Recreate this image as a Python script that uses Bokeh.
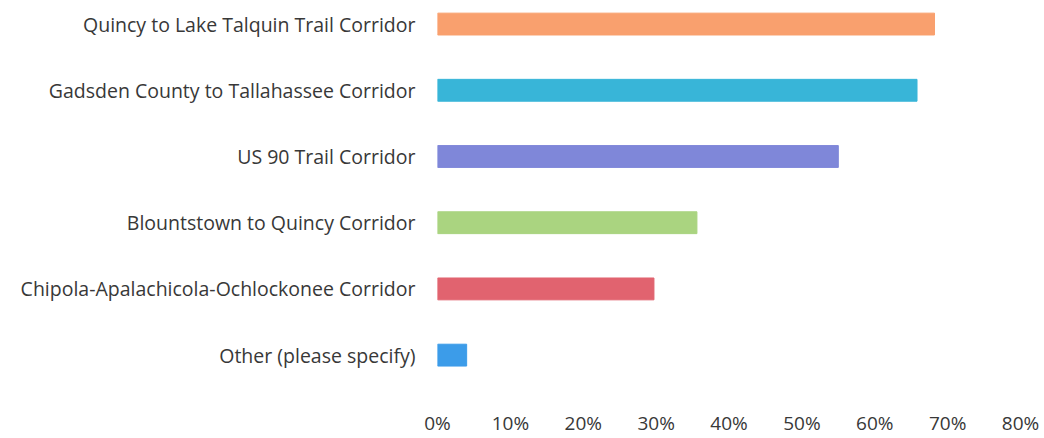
from bokeh.plotting import figure
from bokeh.models import ColumnDataSource, Range1d, FixedTicker
from bokeh.embed import file_html
from bokeh.resources import INLINE

categories = [
    "Quincy to Lake Talquin Trail Corridor",
    "Gadsden County to Tallahassee Corridor",
    "US 90 Trail Corridor",
    "Blountstown to Quincy Corridor",
    "Chipola-Apalachicola-Ochlockonee Corridor",
    "Other (please specify)",
]
values = [68.2, 65.8, 55.0, 35.6, 29.7, 4.0]
colors = ["#F9A06E", "#38B5D8", "#7F87D9", "#AAD480", "#E1636F", "#3C9CE9"]
x_ticks = [0, 10, 20, 30, 40, 50, 60, 70, 80]

n = len(categories)
ypos = [n - 1 - i for i in range(n)]
src = ColumnDataSource(dict(y=ypos, v=values, c=colors, name=categories))

p = figure(width=1044, height=438, output_backend="svg", toolbar_location=None,
           x_range=Range1d(0, 80), y_range=Range1d(-0.504, 5.356),
           min_border_left=437, min_border_right=24, min_border_top=0, min_border_bottom=43)
p.hbar(y="y", right="v", left=0, height=0.33, color="c", source=src)

p.xgrid.visible = False
p.ygrid.visible = False
p.outline_line_color = None

p.xaxis.ticker = FixedTicker(ticks=x_ticks)
p.xaxis.major_label_overrides = {t: f"{t}%" for t in x_ticks}
p.xaxis.axis_line_color = None
p.xaxis.major_tick_line_color = None
p.xaxis.minor_tick_line_color = None
p.xaxis.major_label_standoff = 15
p.xaxis.major_label_text_font = "Open Sans"
p.xaxis.major_label_text_font_size = "19px"
p.xaxis.major_label_text_color = "#383838"

p.yaxis.ticker = FixedTicker(ticks=ypos)
p.yaxis.major_label_overrides = {y: c for y, c in zip(ypos, categories)}
p.yaxis.axis_line_color = None
p.yaxis.major_tick_line_color = None
p.yaxis.minor_tick_line_color = None
p.yaxis.major_label_standoff = 16
p.yaxis.major_label_text_font = "Open Sans"
p.yaxis.major_label_text_font_size = "19.5px"
p.yaxis.major_label_text_color = "#383838"

open("out.html", "w").write(file_html(p, INLINE))
